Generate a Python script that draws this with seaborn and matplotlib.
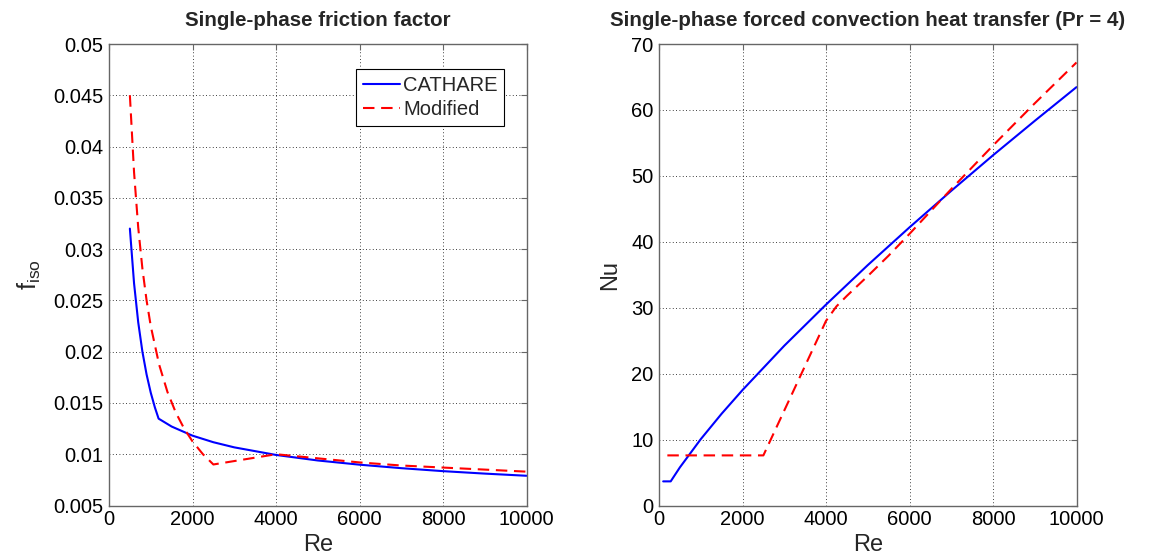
import matplotlib
matplotlib.use("Agg")
import matplotlib.pyplot as plt
import numpy as np
import pandas as pd
import seaborn as sns

# ---------------- data ----------------
# Left panel: single-phase friction factor
re_f_cathare = [500, 600, 700, 800, 900, 1000, 1100, 1188, 1500, 2000, 2500,
                3000, 4000, 5000, 6000, 7000, 8000, 9000, 10000]
f_cathare = [0.0320, 0.02667, 0.02286, 0.0200, 0.01778, 0.0160, 0.01455, 0.01347,
             0.01270, 0.01181, 0.01117, 0.01067, 0.00993, 0.00939, 0.00898,
             0.00864, 0.00835, 0.00811, 0.00790]

re_f_mod = [500, 600, 700, 800, 900, 1000, 1200, 1400, 1600, 1800, 2000, 2250,
            2500, 4000, 5000, 6000, 7000, 8000, 9000, 10000]
f_mod = [0.0450, 0.0375, 0.0321, 0.0281, 0.0250, 0.0225, 0.01875, 0.01607,
         0.01406, 0.0125, 0.01125, 0.0100, 0.0090, 0.0100, 0.0096, 0.0092,
         0.0089, 0.0087, 0.0085, 0.0083]

# Right panel: Nusselt number (Pr = 4)
re_nu_cathare = [100, 280, 500, 1000, 1500, 2000, 3000, 4000, 5000, 6000,
                 7000, 8000, 9000, 10000]
nu_cathare = [3.66, 3.66, 5.78, 10.06, 13.92, 17.51, 24.23, 30.47, 36.46,
              42.19, 47.73, 53.12, 58.34, 63.46]

re_nu_mod = [200, 2500, 4000, 4250, 4500, 5000, 5500, 6000, 6500, 7000, 7500,
             8000, 8500, 9000, 9500, 10000]
nu_mod = [7.6, 7.6, 28.0, 30.2, 31.8, 34.8, 37.9, 41.2, 44.6, 48.0, 51.3,
          54.6, 57.8, 61.0, 64.1, 67.2]

series_names = ["CATHARE", "Modified"]
x_ticks = [0, 2000, 4000, 6000, 8000, 10000]
f_ticks = [0.005, 0.01, 0.015, 0.02, 0.025, 0.03, 0.035, 0.04, 0.045, 0.05]
f_ticklabels = ["0.005", "0.01", "0.015", "0.02", "0.025", "0.03", "0.035",
                "0.04", "0.045", "0.05"]
nu_ticks = [0, 10, 20, 30, 40, 50, 60, 70]

# ---------------- style ----------------
sns.set_theme(style="white")
plt.rcParams["font.family"] = ["Liberation Sans", "DejaVu Sans"]
plt.rcParams["mathtext.fontset"] = "custom"
plt.rcParams["mathtext.rm"] = "Liberation Sans"
plt.rcParams["mathtext.it"] = "Liberation Sans"

TICK_FS = 14.5
LABEL_FS = 17
TITLE_FS = 14.8
FRAME_C = "#666666"

fig = plt.figure(figsize=(11.51, 5.57), dpi=100)
ax1 = fig.add_axes([109 / 1151, 51.5 / 557, 417.5 / 1151, 461.5 / 557])
ax2 = fig.add_axes([659 / 1151, 51.5 / 557, 417.5 / 1151, 461.5 / 557])

colors = {"CATHARE": "#0000ff", "Modified": "#ff0000"}

df_f = pd.concat([
    pd.DataFrame({"Re": re_f_cathare, "val": f_cathare, "series": "CATHARE"}),
    pd.DataFrame({"Re": re_f_mod, "val": f_mod, "series": "Modified"}),
])
df_nu = pd.concat([
    pd.DataFrame({"Re": re_nu_cathare, "val": nu_cathare, "series": "CATHARE"}),
    pd.DataFrame({"Re": re_nu_mod, "val": nu_mod, "series": "Modified"}),
])

for ax, df in ((ax1, df_f), (ax2, df_nu)):
    for name in series_names:
        sub = df[df["series"] == name]
        sns.lineplot(data=sub, x="Re", y="val", ax=ax, color=colors[name],
                     estimator=None, sort=False, lw=1.5,
                     linestyle="-" if name == "CATHARE" else (0, (5.5, 3.2)),
                     label=name if ax is ax1 else None)

def style_axis(ax):
    ax.set_xlim(0, 10000)
    ax.set_xticks(x_ticks)
    ax.set_xticklabels([str(t) for t in x_ticks])
    ax.grid(True, linestyle=(0, (1, 3)), color="black", linewidth=0.6)
    ax.set_axisbelow(True)
    ax.tick_params(direction="in", length=4, width=0.8, top=True, right=True,
                   labelsize=TICK_FS, colors=FRAME_C, labelcolor="black")
    ax.tick_params(axis="x", pad=3)
    ax.tick_params(axis="y", pad=4)
    for sp in ax.spines.values():
        sp.set_linewidth(1.0)
        sp.set_color(FRAME_C)

style_axis(ax1)
ax1.set_ylim(0.005, 0.05)
ax1.set_yticks(f_ticks)
ax1.set_yticklabels(f_ticklabels)
ax1.set_xlabel("Re", fontsize=LABEL_FS, labelpad=4)
ax1.set_ylabel(r"f$_{\mathregular{iso}}$", fontsize=LABEL_FS + 1, labelpad=7)
ax1.set_title("Single-phase friction factor", fontsize=TITLE_FS,
              fontweight="bold", pad=13)

style_axis(ax2)
ax2.set_ylim(0, 70)
ax2.set_yticks(nu_ticks)
ax2.set_yticklabels([str(t) for t in nu_ticks])
ax2.set_xlabel("Re", fontsize=LABEL_FS, labelpad=4)
ax2.set_ylabel("Nu", fontsize=LABEL_FS, labelpad=7)
ax2.set_title("Single-phase forced convection heat transfer (Pr = 4)",
              fontsize=TITLE_FS, fontweight="bold", pad=13)
if ax2.get_legend() is not None:
    ax2.get_legend().remove()

leg = ax1.legend(loc="upper right", bbox_to_anchor=(0.946, 0.945),
                 fontsize=TICK_FS, frameon=True, fancybox=False,
                 edgecolor="black", framealpha=1, handlelength=1.83,
                 handletextpad=0.17, borderpad=0.32, labelspacing=0.27,
                 borderaxespad=0)
leg.get_frame().set_linewidth(0.8)

fig.savefig("out.png", dpi=100)
